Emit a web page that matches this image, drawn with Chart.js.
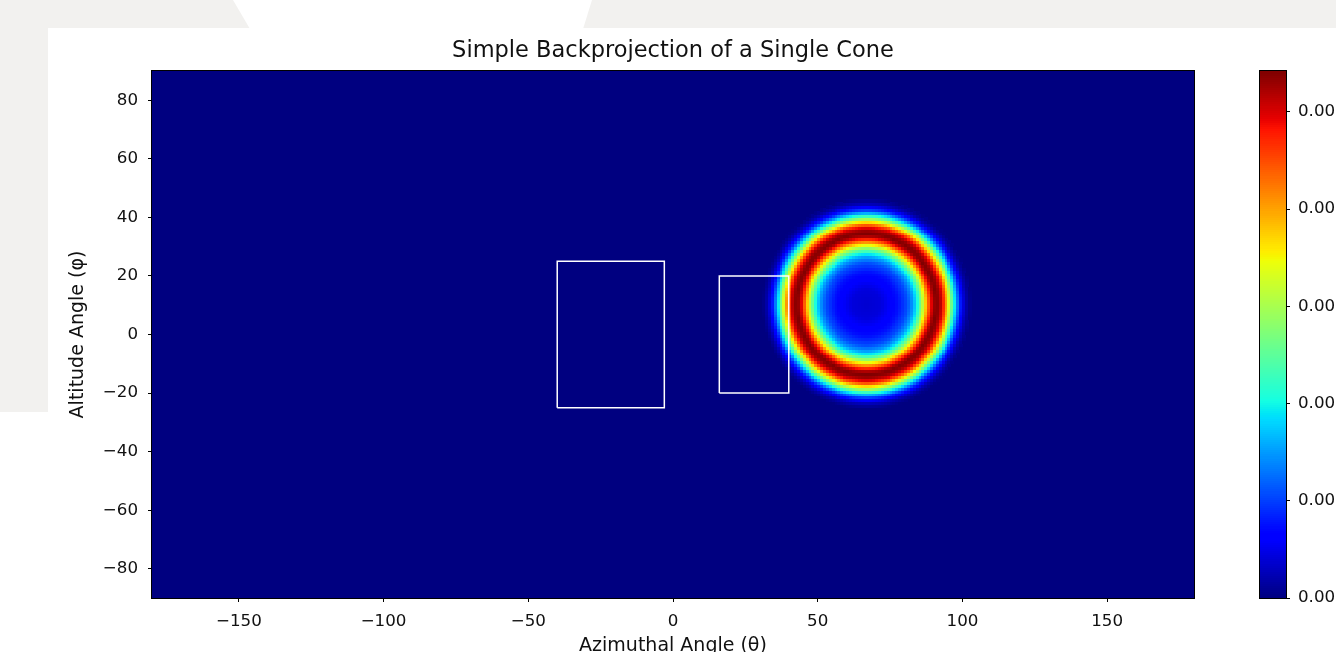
<!DOCTYPE html>
<html>
<head>
<meta charset="utf-8">
<script src="https://cdn.jsdelivr.net/npm/chart.js@4.4.1/dist/chart.umd.min.js"></script>
<style>
  html, body { margin: 0; padding: 0; width: 1336px; height: 652px; overflow: hidden; background: #f2f1ef; position: relative; }
  #panel { position: absolute; left: 48px; top: 28px; width: 1288px; height: 624px; background: #ffffff; }
  #panelLow { position: absolute; left: 0; top: 412px; width: 60px; height: 240px; background: #ffffff; }
  #trap { position: absolute; left: 0; top: 0; width: 1336px; height: 29px; background: #ffffff;
          clip-path: polygon(233px 0, 592px 0, 583px 29px, 250px 29px); }
  #main { position: absolute; left: 0; top: 0; }
  #cbar { position: absolute; left: 1200px; top: 0; }
</style>
</head>
<body>
<div id="panel"></div>
<div id="panelLow"></div>
<div id="trap"></div>
<canvas id="main" width="1336" height="657"></canvas>
<canvas id="cbar" width="136" height="652"></canvas>
<script>
// ---------------- data ----------------
const titleText = "Simple Backprojection of a Single Cone";
const xLabel = "Azimuthal Angle (θ)";
const yLabel = "Altitude Angle (φ)";
const xRange = [-180, 180];
const yRange = [-90, 90];
const xTicks = [-150, -100, -50, 0, 50, 100, 150];
const yTicks = [-80, -60, -40, -20, 0, 20, 40, 60, 80];
const cbTicks = [0, 0.001, 0.002, 0.003, 0.004, 0.005];
const cbMax = 0.00542;
// cone ring: centre (azimuth, altitude) in degrees
const ringCenter = [67, 10.5];
// radial profile: distance from centre (deg) -> fraction of colour max
const profileR = [0, 5, 8, 11, 14, 16, 17.5, 19, 20, 21, 22, 23, 24, 25, 26, 27, 28, 29, 30, 31, 32, 33, 34, 35, 36];
const profileV = [0.07, 0.08, 0.11, 0.14, 0.2, 0.28, 0.38, 0.52, 0.63, 0.75, 0.87, 0.96, 1.0, 0.98, 0.92, 0.82, 0.68, 0.55, 0.42, 0.3, 0.19, 0.11, 0.05, 0.02, 0];
// rectangles (regions) in degrees
const rectX0 = [-40, 16];
const rectX1 = [-3, 40];
const rectY0 = [-25, -20];
const rectY1 = [25, 20];

// ---------------- helpers ----------------
function seg(t, pts) {
  for (let i = 1; i < pts.length; i++) {
    if (t <= pts[i][0]) {
      const [t0, v0] = pts[i - 1], [t1, v1] = pts[i];
      return v0 + (v1 - v0) * (t - t0) / (t1 - t0);
    }
  }
  return pts[pts.length - 1][1];
}
const JR = [[0, 0], [0.35, 0], [0.66, 1], [0.89, 1], [1, 0.5]];
const JG = [[0, 0], [0.125, 0], [0.375, 1], [0.64, 1], [0.91, 0], [1, 0]];
const JB = [[0, 0.5], [0.11, 1], [0.34, 1], [0.65, 0], [1, 0]];
function jet(t) {
  t = Math.max(0, Math.min(1, t));
  const r = Math.round(255 * seg(t, JR)), g = Math.round(255 * seg(t, JG)), b = Math.round(255 * seg(t, JB));
  return `rgb(${r},${g},${b})`;
}
function profileAt(d) {
  if (d >= profileR[profileR.length - 1]) return 0;
  for (let i = 1; i < profileR.length; i++) {
    if (d <= profileR[i]) {
      const f = (d - profileR[i - 1]) / (profileR[i] - profileR[i - 1]);
      return profileV[i - 1] + (profileV[i] - profileV[i - 1]) * f;
    }
  }
  return 0;
}
const fmt = v => (v < 0 ? '\u2212' + Math.abs(v) : String(v));
const FONT = "'DejaVu Sans', sans-serif";
const TXT = '#111111';
const TICK_SIZE = 16.7;
const LABEL_SIZE = 19;
const TITLE_SIZE = 22.5;

// ---------------- heatmap plugin ----------------
const heatmap = {
  id: 'heatmap',
  beforeDatasetsDraw(chart) {
    const { ctx, chartArea: a, scales: { x, y } } = chart;
    ctx.save();
    ctx.beginPath(); ctx.rect(a.left, a.top, a.width, a.height); ctx.clip();
    ctx.fillStyle = jet(0);
    ctx.fillRect(a.left, a.top, a.width, a.height);
    const maxR = profileR[profileR.length - 1];
    for (let gx = xRange[0]; gx < xRange[1]; gx++) {
      for (let gy = yRange[0]; gy < yRange[1]; gy++) {
        const d = Math.hypot(gx + 0.5 - ringCenter[0], gy + 0.5 - ringCenter[1]);
        if (d >= maxR) continue;
        const v = profileAt(d);
        const px0 = x.getPixelForValue(gx), px1 = x.getPixelForValue(gx + 1);
        const py0 = y.getPixelForValue(gy + 1), py1 = y.getPixelForValue(gy);
        ctx.fillStyle = jet(v);
        ctx.fillRect(Math.floor(px0), Math.floor(py0), Math.ceil(px1) - Math.floor(px0), Math.ceil(py1) - Math.floor(py0));
      }
    }
    ctx.restore();
  },
  afterDraw(chart) {
    const { ctx, chartArea: a } = chart;
    ctx.save();
    ctx.strokeStyle = '#000';
    ctx.lineWidth = 1;
    ctx.strokeRect(Math.round(a.left) - 0.5, Math.round(a.top) - 0.5, Math.round(a.width) + 1, Math.round(a.height) + 1);
    ctx.restore();
  }
};

// rectangle datasets
const rectSets = rectX0.map((x0, i) => ({
  type: 'scatter',
  data: [
    { x: x0, y: rectY0[i] }, { x: rectX1[i], y: rectY0[i] }, { x: rectX1[i], y: rectY1[i] },
    { x: x0, y: rectY1[i] }, { x: x0, y: rectY0[i] }
  ],
  showLine: true,
  borderColor: '#ffffff',
  borderWidth: 1.5,
  pointRadius: 0,
  fill: false
}));

new Chart(document.getElementById('main'), {
  type: 'scatter',
  data: { datasets: rectSets },
  plugins: [heatmap],
  options: {
    responsive: false,
    animation: false,
    devicePixelRatio: 1,
    layout: { padding: { left: 60, top: 37.5, right: 142, bottom: 0 } },
    plugins: {
      legend: { display: false },
      tooltip: { enabled: false },
      title: {
        display: true, text: titleText, color: TXT, fullSize: false,
        font: { family: FONT, size: TITLE_SIZE, weight: 'normal', lineHeight: 1.2 },
        padding: { top: 0, bottom: 6.5 }
      }
    },
    scales: {
      x: {
        type: 'linear', min: xRange[0], max: xRange[1],
        afterFit: s => { s.height = 59; },
        afterBuildTicks: s => { s.ticks = xTicks.map(v => ({ value: v })); },
        grid: { drawOnChartArea: false, drawTicks: true, tickLength: 4, color: '#000' },
        border: { display: true, color: '#000' },
        ticks: { color: TXT, font: { family: FONT, size: TICK_SIZE }, padding: 10, maxRotation: 0, callback: v => fmt(v) },
        title: { display: true, text: xLabel, color: TXT, font: { family: FONT, size: LABEL_SIZE, lineHeight: 1.2 }, padding: { top: 0, bottom: 0 } }
      },
      y: {
        type: 'linear', min: yRange[0], max: yRange[1],
        afterFit: s => { s.width = 92; },
        afterBuildTicks: s => { s.ticks = yTicks.map(v => ({ value: v })); },
        grid: { drawOnChartArea: false, drawTicks: true, tickLength: 4, color: '#000' },
        border: { display: true, color: '#000' },
        ticks: { color: TXT, font: { family: FONT, size: TICK_SIZE }, padding: 10, callback: v => fmt(v) },
        title: { display: true, text: yLabel, color: TXT, font: { family: FONT, size: LABEL_SIZE, lineHeight: 1.2 }, padding: { top: 6.6, bottom: 0 } }
      }
    }
  }
});

// ---------------- colorbar ----------------
const cbPlugin = {
  id: 'cbfill',
  beforeDatasetsDraw(chart) {
    const { ctx, chartArea: a, scales: { y } } = chart;
    ctx.save();
    const steps = 256;
    for (let i = 0; i < steps; i++) {
      const v0 = cbMax * i / steps, v1 = cbMax * (i + 1) / steps;
      const p0 = y.getPixelForValue(v0), p1 = y.getPixelForValue(v1);
      ctx.fillStyle = jet((i + 0.5) / steps);
      ctx.fillRect(a.left, Math.floor(p1), a.width, Math.ceil(p0) - Math.floor(p1));
    }
    ctx.strokeStyle = '#000';
    ctx.lineWidth = 1;
    ctx.strokeRect(Math.round(a.left) - 0.5, Math.round(a.top) - 0.5, Math.round(a.width) + 1, Math.round(a.height) + 1);
    ctx.restore();
  }
};

new Chart(document.getElementById('cbar'), {
  type: 'scatter',
  data: { datasets: [{ data: [] }] },
  plugins: [cbPlugin],
  options: {
    responsive: false,
    animation: false,
    devicePixelRatio: 1,
    layout: { padding: { left: 60, top: 71, right: 0, bottom: 54 } },
    plugins: { legend: { display: false }, tooltip: { enabled: false }, title: { display: false } },
    scales: {
      x: { display: false, min: 0, max: 1 },
      y: {
        type: 'linear', position: 'right', min: 0, max: cbMax,
        afterFit: s => { s.width = 50; },
        afterBuildTicks: s => { s.ticks = cbTicks.map(v => ({ value: v })); },
        grid: { drawOnChartArea: false, drawTicks: true, tickLength: 4, color: '#000' },
        border: { display: false },
        ticks: { color: TXT, font: { family: FONT, size: TICK_SIZE }, padding: 8, callback: v => v.toFixed(3) }
      }
    }
  }
});
</script>
</body>
</html>
